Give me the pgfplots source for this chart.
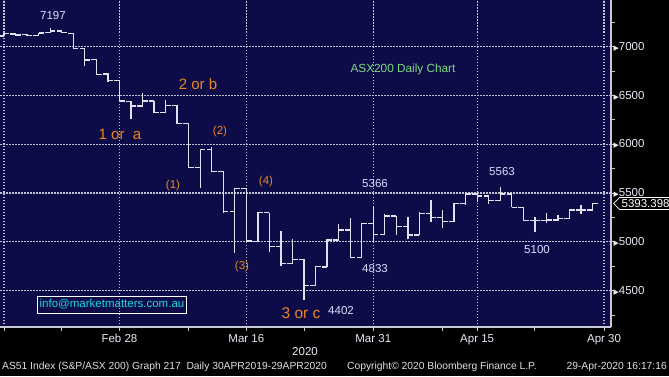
\documentclass[border=0pt]{standalone}
\usepackage{pgfplots}
\pgfplotsset{compat=1.18}
\usepackage{pgfplotstable}
\usepackage{fontspec}
\setmainfont{Liberation Sans}
\newfontfamily\dejavu{DejaVu Sans}
\usetikzlibrary{shapes.symbols}
\definecolor{bbnavy}{RGB}{14,12,72}
\definecolor{bbgrid}{RGB}{195,195,210}
\definecolor{bbbar}{RGB}{225,225,240}
\definecolor{bbaxis}{RGB}{200,200,215}
\definecolor{bblab}{RGB}{232,232,245}
\definecolor{bbval}{RGB}{215,225,255}
\definecolor{bborange}{RGB}{232,135,30}
\definecolor{bbgreen}{RGB}{120,220,130}
\definecolor{bbcyan}{RGB}{30,215,225}
\definecolor{bbfoot}{RGB}{225,225,225}

% trading-day index (Feb 28 = 0), open, high, low, close
\pgfplotstableread{
i O H L C
-10 7110 7140 7105 7137
-9 7130 7143 7113 7120
-8 7123 7130 7105 7113
-7 7113 7143 7110 7140
-6 7143 7197 7140 7161
-5 7161 7165 7140 7147
-4 7137 7142 6976 6984
-3 6980 6985 6805 6864
-2 6867 6870 6710 6713
-1 6720 6734 6635 6655
0 6655 6660 6436 6443
1 6440 6443 6256 6392
2 6392 6529 6385 6443
3 6443 6448 6320 6323
4 6323 6454 6318 6400
5 6400 6405 6210 6215
6 6215 6218 5760 5764
7 5764 5950 5549 5948
8 5948 5975 5715 5719
9 5719 5722 5300 5309
10 5309 5555 4882 5549
11 5549 5555 5000 5008
12 5001 5305 4995 5298
13 5298 5300 4892 4950
14 4950 5111 4752 4780
15 4780 5026 4776 4821
16 4821 4825 4402 4552
17 4552 4750 4545 4745
18 4743 5025 4740 5019
19 5019 5180 5015 5122
20 5122 5241 4838 4841
21 4841 5195 4833 5190
22 5190 5366 5001 5078
23 5078 5282 5075 5265
24 5265 5268 5070 5155
25 5155 5258 5026 5070
26 5070 5308 5065 5292
27 5292 5429 5207 5252
28 5252 5328 5139 5207
29 5207 5398 5203 5395
30 5395 5490 5378 5490
31 5490 5520 5411 5470
32 5470 5474 5389 5421
33 5421 5563 5418 5490
34 5490 5492 5354 5354
35 5354 5357 5217 5217
36 5217 5258 5100 5217
37 5217 5292 5190 5224
38 5224 5275 5217 5241
39 5241 5330 5238 5326
40 5326 5378 5285 5326
41 5326 5395 5320 5393
}\ohlc

\begin{document}
\begin{tikzpicture}[x=1pt,y=1pt]
\useasboundingbox (0,0) rectangle (669,376);
\fill[black] (0,0) rectangle (669,376);
\fill[bbnavy] (0,49) rectangle (611,376);
\begin{axis}[
  at={(0pt,49pt)}, anchor=south west,
  scale only axis, width=611pt, height=327pt,
  xmin=-10.35, xmax=42.6, ymin=4127, ymax=7479,
  axis x line*=bottom, axis y line*=right,
  axis line style={bbaxis, line width=1.2pt},
  clip=false,
  xtick={-10,0,11,22,31,42},
  xticklabels={,Feb 28,Mar 16,Mar 31,Apr 15,Apr 30},
  minor xtick={-5,6,16,28,36},
  ytick={4500,5000,...,7000},
  minor ytick={4250,4750,...,7250},
  grid=major,
  major grid style={draw=bbgrid, line width=1.3pt, dash pattern=on 1.5pt off 1.5pt},
  tick style={bbaxis, line width=1pt},
  tick align=outside,
  major tick length=4pt, minor tick length=4pt,
  ticklabel style={font=\fontsize{11.5}{12}\selectfont, text=bblab},
  /pgf/number format/assume math mode=true,
  /pgf/number format/1000 sep={},
  yticklabel={{\dejavu\fontsize{7}{7}\selectfont ▶}\pgfmathprintnumber{\tick}},
  yticklabel style={anchor=west, xshift=-5pt},
]
% high-low
\addplot[draw=none, mark=none, forget plot,
  error bars/.cd, y dir=plus, y explicit, error mark=none,
  error bar style={draw=bbbar, line width=1.3pt}]
  table[x=i, y=L, y error expr=\thisrow{H}-\thisrow{L}] {\ohlc};
% open ticks
\addplot[draw=none, mark=none, forget plot,
  error bars/.cd, x dir=minus, x fixed=0.45, error mark=none,
  error bar style={draw=bbbar, line width=1.3pt}]
  table[x=i, y=O] {\ohlc};
% close ticks
\addplot[draw=none, mark=none, forget plot,
  error bars/.cd, x dir=plus, x fixed=0.45, error mark=none,
  error bar style={draw=bbbar, line width=1.3pt}]
  table[x=i, y=C] {\ohlc};
\end{axis}

% annotations
\begin{scope}[every node/.style={inner sep=0pt}]
\node[text=bbval, font=\fontsize{11.5}{12}\selectfont] at (53,360) {7197};
\node[text=bbval, font=\fontsize{11.5}{12}\selectfont] at (375,192) {5366};
\node[text=bbval, font=\fontsize{11.5}{12}\selectfont] at (375,107) {4833};
\node[text=bbval, font=\fontsize{11.5}{12}\selectfont] at (341,65) {4402};
\node[text=bbval, font=\fontsize{11.5}{12}\selectfont] at (502,204) {5563};
\node[text=bbval, font=\fontsize{11.5}{12}\selectfont] at (537,126) {5100};
\node[text=bborange, font=\fontsize{15}{16}\selectfont] at (198,292) {2 or b};
\node[text=bborange, font=\fontsize{15}{16}\selectfont] at (120,242) {1 or\ \ a};
\node[text=bborange, font=\fontsize{15.5}{16}\selectfont] at (301,63) {3 or c};
\node[text=bborange, font=\fontsize{11.5}{12}\selectfont] at (220,244) {(2)};
\node[text=bborange, font=\fontsize{11.5}{12}\selectfont] at (173,190) {(1)};
\node[text=bborange, font=\fontsize{11.5}{12}\selectfont] at (266,194) {(4)};
\node[text=bborange, font=\fontsize{11.5}{12}\selectfont] at (242,109) {(3)};
\node[text=bbgreen, font=\fontsize{11.8}{12}\selectfont] at (403,307) {ASX200 Daily Chart};
\node[draw=white, line width=0.8pt, text=bbcyan, inner xsep=2pt,
  minimum width=148pt, minimum height=17pt,
  font=\fontsize{11.5}{12}\selectfont] at (112,71.5) {info@marketmatters.com.au};
\node[signal, signal to=west, draw=white, fill=black, text=white, line width=0.8pt,
  inner xsep=2pt, inner ysep=2pt, anchor=west,
  font=\fontsize{11.5}{12}\selectfont] at (613,172.5) {5393.398};
\node[text=bblab, font=\fontsize{11.5}{12}\selectfont] at (305,24) {2020};
\node[text=bbfoot, anchor=west, font=\fontsize{10.3}{11}\selectfont] at (2,9)
  {AS51 Index (S\&P/ASX 200) Graph 217\ \ Daily 30APR2019-29APR2020};
\node[text=bbfoot, anchor=west, font=\fontsize{10.3}{11}\selectfont] at (347,9)
  {Copyright© 2020 Bloomberg Finance L.P.};
\node[text=bbfoot, anchor=east, font=\fontsize{10.3}{11}\selectfont] at (667,9)
  {29-Apr-2020 16:17:16};
\end{scope}
\end{tikzpicture}
\end{document}
